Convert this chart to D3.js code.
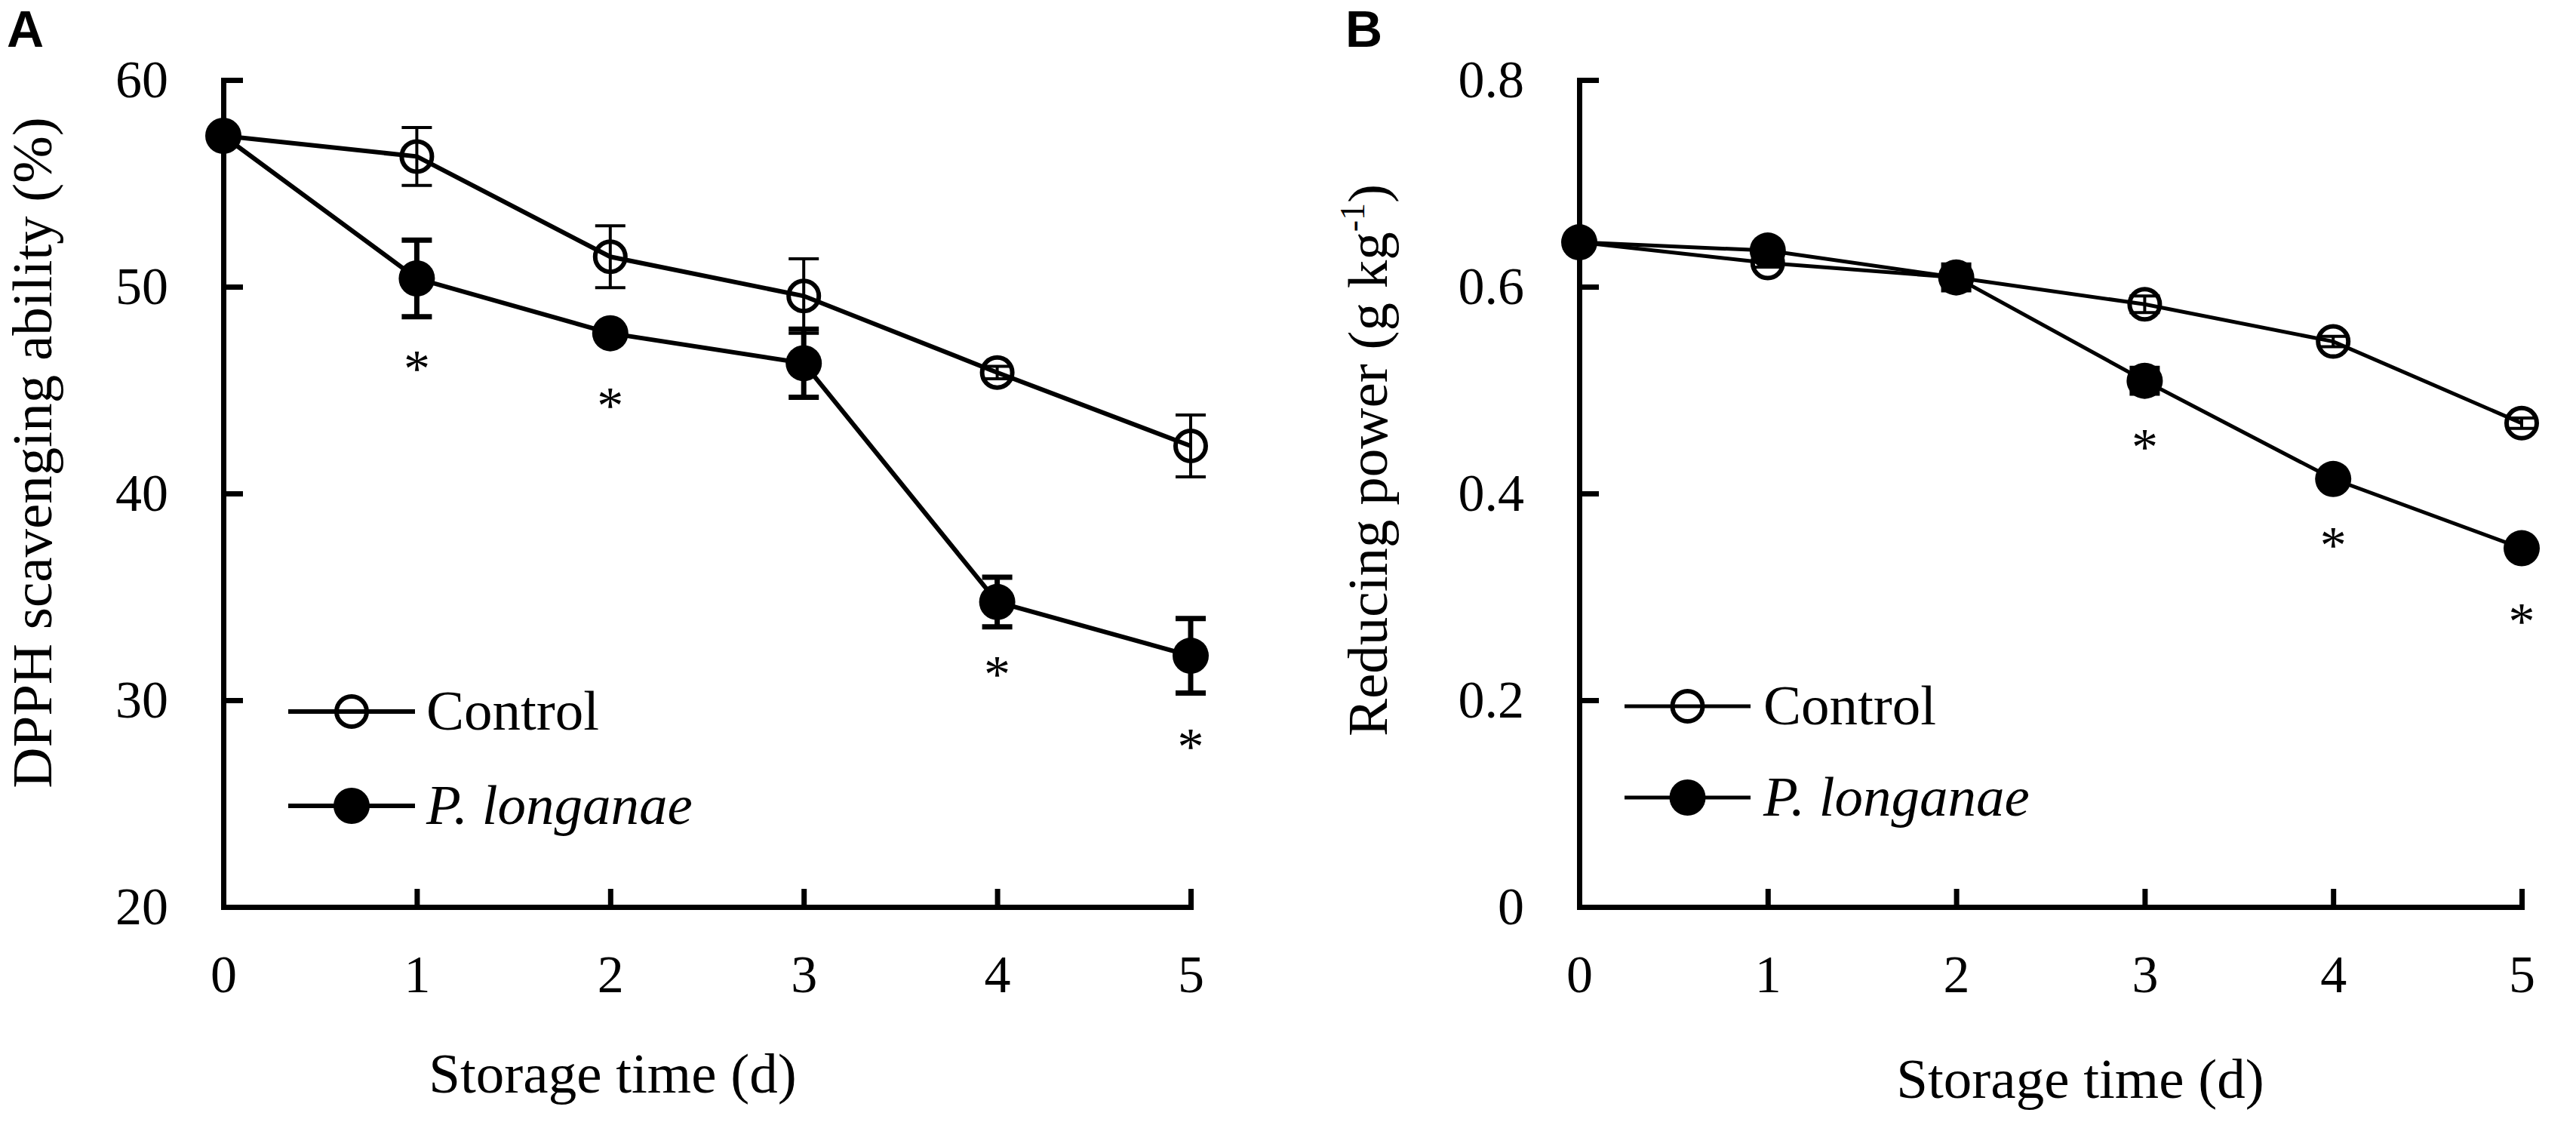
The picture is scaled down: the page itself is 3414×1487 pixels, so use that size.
<!DOCTYPE html>
<html lang="en">
<head>
<meta charset="UTF-8">
<title>DPPH scavenging ability and reducing power</title>
<style>
    body { margin: 0; background: #fff; }
    svg text { font-family: "Liberation Serif", "Times New Roman", serif; fill: #000; }
    .panel-label { font-family: "Liberation Sans", Arial, sans-serif; font-weight: bold; font-size: 68px; }
    .tick text { font-size: 70px; }
    .axis-title { font-size: 75px; }
    .legend-text { font-size: 75px; }
    .star { font-size: 70px; text-anchor: middle; }
</style>
</head>
<body>
<svg width="3414" height="1487"></svg>

<script src="https://d3js.org/d3.v7.min.js"></script>
<script>
    // storage days
    const days = [0, 1, 2, 3, 4, 5];

    // Panel A: DPPH scavenging ability (%)
    const dpphControl = [57.3, 56.3, 51.45, 49.55, 45.85, 42.3];
    const dpphControlErr = [0.3, 1.4, 1.5, 1.8, 0.3, 1.5];
    const dpphPl = [57.3, 50.4, 47.75, 46.3, 34.75, 32.15];
    const dpphPlErr = [0.3, 1.85, 0.3, 1.65, 1.2, 1.8];
    const dpphStarDays = [1, 2, 4, 5];
    const dpphStarVals = [46.4, 44.6, 31.6, 28.1];
    const dpphTicks = [20, 30, 40, 50, 60];

    // Panel B: reducing power (g kg-1)
    const rpControl = [0.643, 0.623, 0.609, 0.583, 0.547, 0.468];
    const rpControlErr = [0.004, 0.004, 0.006, 0.008, 0.005, 0.005];
    const rpPl = [0.643, 0.635, 0.609, 0.509, 0.414, 0.347];
    const rpPlErr = [0.004, 0.005, 0.012, 0.012, 0.005, 0.005];
    const rpStarDays = [3, 4, 5];
    const rpStarVals = [0.452, 0.357, 0.283];
    const rpTicks = [0, 0.2, 0.4, 0.6, 0.8];

    const seriesNames = ["Control", "P. longanae"];

    const svg = d3.select("svg");

    function drawPanel(cfg) {
        const g = svg.append("g");

        const x = d3.scaleLinear().domain([0, 5]).range([cfg.left, cfg.right]);
        const y = d3.scaleLinear().domain(cfg.yDomain).range([1202, 106]);

        // panel letter
        g.append("text").attr("class", "panel-label")
            .attr("x", cfg.letterX).attr("y", 62).text(cfg.letter);

        // axes
        const yAxis = d3.axisLeft(y).tickValues(cfg.yTicks)
            .tickSize(-26).tickSizeOuter(0).tickPadding(73)
            .tickFormat(d => String(d));
        const xAxis = d3.axisBottom(x).tickValues(days)
            .tickSize(-24).tickSizeOuter(0).tickPadding(63)
            .tickFormat(d => String(d));

        const ya = g.append("g").attr("transform", `translate(${cfg.left},0)`).call(yAxis);
        const xa = g.append("g").attr("transform", "translate(0,1202)").call(xAxis);
        [ya, xa].forEach(a => {
            a.select(".domain").attr("stroke-width", 7).attr("stroke-linecap", "square");
            a.selectAll(".tick line").attr("stroke-width", 7);
            a.selectAll(".tick text").attr("font-size", null);
        });

        // axis titles
        g.append("text").attr("class", "axis-title")
            .attr("text-anchor", "middle")
            .attr("x", cfg.xTitleX).attr("y", cfg.xTitleY)
            .text("Storage time (d)");

        const yt = g.append("text").attr("class", "axis-title")
            .attr("text-anchor", "middle")
            .attr("font-size", cfg.yTitleSize)
            .attr("transform", `translate(${cfg.yTitleX},${cfg.yTitleY}) rotate(-90)`);
        cfg.yTitle(yt);

        const line = d3.line().x((d, i) => x(days[i])).y(d => y(d));

        const series = [
            { vals: cfg.control, err: cfg.controlErr, filled: false, errW: 4 },
            { vals: cfg.pl, err: cfg.plErr, filled: true, errW: 7 }
        ];

        series.forEach(s => {
            g.append("path").datum(s.vals)
                .attr("d", line).attr("fill", "none")
                .attr("stroke", "#000").attr("stroke-width", cfg.lineW);
        });

        series.forEach(s => {
            const eb = g.append("g").attr("stroke", "#000").attr("stroke-width", s.errW);
            s.vals.forEach((v, i) => {
                const cx = x(days[i]);
                const top = y(v + s.err[i]), bot = y(v - s.err[i]);
                eb.append("line").attr("x1", cx).attr("x2", cx).attr("y1", top).attr("y2", bot);
                eb.append("line").attr("x1", cx - 20).attr("x2", cx + 20).attr("y1", top).attr("y2", top);
                eb.append("line").attr("x1", cx - 20).attr("x2", cx + 20).attr("y1", bot).attr("y2", bot);
            });
        });

        series.forEach(s => {
            g.selectAll(null).data(s.vals).enter().append("circle")
                .attr("cx", (d, i) => x(days[i]))
                .attr("cy", d => y(d))
                .attr("r", s.filled ? 24 : 20)
                .attr("fill", s.filled ? "#000" : "none")
                .attr("stroke", "#000")
                .attr("stroke-width", s.filled ? 0 : 6);
        });

        // significance marks
        g.selectAll(null).data(cfg.starDays).enter().append("text")
            .attr("class", "star")
            .attr("x", d => x(d))
            .attr("y", (d, i) => y(cfg.starVals[i]))
            .attr("dy", "0.47em")
            .text("*");

        // legend
        seriesNames.forEach((name, i) => {
            const ly = cfg.legendY[i];
            g.append("line")
                .attr("x1", cfg.legendX0).attr("x2", cfg.legendX1)
                .attr("y1", ly).attr("y2", ly)
                .attr("stroke", "#000").attr("stroke-width", cfg.lineW);
            g.append("circle")
                .attr("cx", (cfg.legendX0 + cfg.legendX1) / 2).attr("cy", ly)
                .attr("r", i === 0 ? 20 : 24)
                .attr("fill", i === 0 ? "none" : "#000")
                .attr("stroke", "#000").attr("stroke-width", i === 0 ? 6 : 0);
            g.append("text").attr("class", "legend-text")
                .attr("x", cfg.legendTextX).attr("y", ly + 24)
                .attr("font-style", i === 1 ? "italic" : null)
                .text(name);
        });
    }

    drawPanel({
        letter: "A", letterX: 9,
        left: 296, right: 1578,
        yDomain: [20, 60], yTicks: dpphTicks,
        control: dpphControl, controlErr: dpphControlErr,
        pl: dpphPl, plErr: dpphPlErr,
        starDays: dpphStarDays, starVals: dpphStarVals,
        lineW: 6,
        xTitleX: 812, xTitleY: 1448,
        yTitleX: 68, yTitleY: 600, yTitleSize: 75,
        yTitle: t => t.text("DPPH scavenging ability (%)"),
        legendX0: 382, legendX1: 550, legendTextX: 565, legendY: [943, 1068]
    });

    drawPanel({
        letter: "B", letterX: 1783,
        left: 2093, right: 3342,
        yDomain: [0, 0.8], yTicks: rpTicks,
        control: rpControl, controlErr: rpControlErr,
        pl: rpPl, plErr: rpPlErr,
        starDays: rpStarDays, starVals: rpStarVals,
        lineW: 5,
        xTitleX: 2757, xTitleY: 1455,
        yTitleX: 1838, yTitleY: 610, yTitleSize: 76,
        yTitle: t => {
            t.append("tspan").text("Reducing power (g kg");
            t.append("tspan").attr("font-size", 46).attr("dy", -30).text("-1");
            t.append("tspan").attr("dy", 30).text(")");
        },
        legendX0: 2153, legendX1: 2320, legendTextX: 2337, legendY: [936, 1057]
    });
</script>
</body>
</html>
